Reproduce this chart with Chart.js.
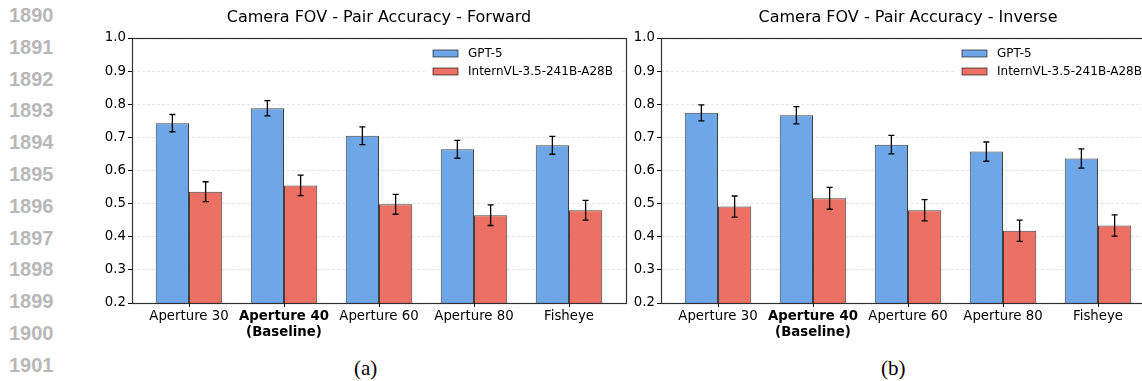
<!DOCTYPE html>
<html>
<head>
<meta charset="utf-8">
<script src="https://cdn.jsdelivr.net/npm/chart.js@4.4.1/dist/chart.umd.min.js"></script>
<style>
  html, body { margin: 0; padding: 0; background: #fff; }
  #page { position: relative; width: 1142px; height: 381px; overflow: hidden; background: #fff; }
  canvas { position: absolute; top: 0; }
  #left { left: 60px; }
  #right { left: 589px; }
  .lineno {
    position: absolute; left: 9px; width: 50px;
    font: bold 20px "Liberation Sans", Arial, sans-serif; color: #b8b8b8;
    line-height: 20px;
  }
  .caption {
    position: absolute; top: 357px;
    font: 21px "Liberation Serif", "Times New Roman", serif; color: #000;
    line-height: 22px;
  }
</style>
</head>
<body>
<div id="page">
  <canvas id="left" width="580" height="345"></canvas>
  <canvas id="right" width="580" height="345"></canvas>
  <div class="caption" style="left:354px">(a)</div>
  <div class="caption" style="left:881px">(b)</div>
</div>
<script>
// ==========================
// DATA
// ==========================
const categories = ["Aperture 30", ["Aperture 40", "(Baseline)"], "Aperture 60", "Aperture 80", "Fisheye"];
const baselineIndex = 1;
const seriesNames = ["GPT-5", "InternVL-3.5-241B-A28B"];

const forwardGpt = [0.743, 0.788, 0.705, 0.664, 0.676];
const forwardGptErr = [0.026, 0.023, 0.027, 0.027, 0.027];
const forwardIntern = [0.536, 0.555, 0.498, 0.465, 0.480];
const forwardInternErr = [0.030, 0.031, 0.030, 0.031, 0.030];

const inverseGpt = [0.774, 0.767, 0.678, 0.657, 0.636];
const inverseGptErr = [0.024, 0.026, 0.028, 0.029, 0.029];
const inverseIntern = [0.491, 0.516, 0.480, 0.418, 0.434];
const inverseInternErr = [0.032, 0.033, 0.032, 0.032, 0.032];

const yMin = 0.2, yMax = 1.0, yStep = 0.1;
const lineNumbers = [1890, 1891, 1892, 1893, 1894, 1895, 1896, 1897, 1898, 1899, 1900, 1901];

const blue = "#6ea6e8";
const red = "#ec7063";

// ==========================
// LINE NUMBERS (margin)
// ==========================
const page = document.getElementById("page");
lineNumbers.forEach((n, i) => {
  const d = document.createElement("div");
  d.className = "lineno";
  d.style.top = (5 + i * 31.8) + "px";
  d.textContent = n;
  page.appendChild(d);
});

Chart.defaults.font.family = "'DejaVu Sans', sans-serif";
Chart.defaults.color = "#000";

// ---------- error bars ----------
const errorBars = {
  id: "errorBars",
  afterDatasetsDraw(chart) {
    const ctx = chart.ctx;
    const yScale = chart.scales.y;
    ctx.save();
    ctx.strokeStyle = "#000";
    ctx.lineWidth = 1.3;
    chart.data.datasets.forEach((ds, di) => {
      const meta = chart.getDatasetMeta(di);
      meta.data.forEach((bar, i) => {
        const v = ds.data[i].y;
        const e = ds.errors[i];
        const top = yScale.getPixelForValue(v + e);
        const bot = yScale.getPixelForValue(v - e);
        ctx.beginPath();
        ctx.moveTo(bar.x, top); ctx.lineTo(bar.x, bot);
        ctx.moveTo(bar.x - 3, top); ctx.lineTo(bar.x + 3, top);
        ctx.moveTo(bar.x - 3, bot); ctx.lineTo(bar.x + 3, bot);
        ctx.stroke();
      });
    });
    ctx.restore();
  }
};

// ---------- legend box + frame ----------
const frameAndLegend = {
  id: "frameAndLegend",
  afterDraw(chart) {
    const ctx = chart.ctx;
    const a = chart.chartArea;
    ctx.save();
    // legend
    ctx.fillStyle = "#fff";
    ctx.fillRect(a.right - 200, a.top + 6, 194, 38);
    chart.data.datasets.forEach((ds, i) => {
      const cy = a.top + 15.5 + i * 18;
      ctx.fillStyle = ds.backgroundColor;
      ctx.fillRect(a.right - 193, cy - 3.5, 25, 7);
      ctx.strokeStyle = "rgba(0,0,0,0.75)";
      ctx.lineWidth = 0.8;
      ctx.strokeRect(a.right - 193, cy - 3.5, 25, 7);
      ctx.fillStyle = "#000";
      ctx.font = "12px 'DejaVu Sans'";
      ctx.textBaseline = "middle";
      ctx.fillText(ds.label, a.right - 158, cy);
    });
    // spines
    ctx.strokeStyle = "rgba(0,0,0,0.8)";
    ctx.lineWidth = 1.2;
    ctx.strokeRect(Math.round(a.left) + 0.5, Math.round(a.top) + 0.5,
      Math.round(a.right - a.left), Math.round(a.bottom - a.top));
    ctx.restore();
  }
};

function makeChart(id, title, gpt, gptErr, intern, internErr) {
  return new Chart(document.getElementById(id), {
    type: "bar",
    data: {
      datasets: [
        {
          label: seriesNames[0],
          data: gpt.map((v, i) => ({ x: i, y: v })),
          errors: gptErr,
          backgroundColor: blue,
          borderColor: "rgba(0,0,0,0.75)",
          borderWidth: 1
        },
        {
          label: seriesNames[1],
          data: intern.map((v, i) => ({ x: i, y: v })),
          errors: internErr,
          backgroundColor: red,
          borderColor: "rgba(0,0,0,0.75)",
          borderWidth: 1
        }
      ]
    },
    options: {
      responsive: false,
      animation: false,
      devicePixelRatio: 1,
      categoryPercentage: 0.7,
      barPercentage: 1.0,
      layout: { padding: { left: 0, right: 14, top: 0, bottom: 0 } },
      plugins: {
        legend: { display: false },
        tooltip: { enabled: false },
        title: {
          display: true,
          text: title,
          fullSize: false,
          color: "#000",
          font: { size: 16, weight: "normal", lineHeight: 1.2 },
          padding: { top: 8, bottom: 10.8 }
        }
      },
      scales: {
        x: {
          type: "linear",
          min: -0.6,
          max: 4.6,
          offset: false,
          afterBuildTicks: scale => {
            scale.ticks = categories.map((_, i) => ({ value: i }));
          },
          afterFit: scale => { scale.height = 42; },
          grid: {
            offset: false,
            drawOnChartArea: false,
            drawTicks: true,
            tickLength: 4,
            tickColor: "#000",
            tickWidth: 1
          },
          border: { display: false },
          ticks: {
            autoSkip: false,
            maxRotation: 0,
            padding: 2,
            color: "#000",
            callback: v => categories[v],
            font: c => ({
              size: 13.3,
              lineHeight: 1.2,
              weight: c.index === baselineIndex ? "bold" : "normal"
            })
          }
        },
        y: {
          min: yMin,
          max: yMax,
          afterFit: scale => { scale.width = 72; },
          grid: {
            color: "rgba(0,0,0,0.13)",
            lineWidth: 0.8,
            drawTicks: true,
            tickLength: 4,
            tickColor: "#000",
            tickWidth: 1,
            tickBorderDash: []
          },
          border: { display: false, dash: [3, 2] },
          ticks: {
            stepSize: yStep,
            padding: 2,
            color: "#000",
            font: { size: 13.3 },
            callback: v => v.toFixed(1)
          }
        }
      }
    },
    plugins: [errorBars, frameAndLegend]
  });
}

makeChart("left", "Camera FOV - Pair Accuracy - Forward", forwardGpt, forwardGptErr, forwardIntern, forwardInternErr);
makeChart("right", "Camera FOV - Pair Accuracy - Inverse", inverseGpt, inverseGptErr, inverseIntern, inverseInternErr);
</script>
</body>
</html>
